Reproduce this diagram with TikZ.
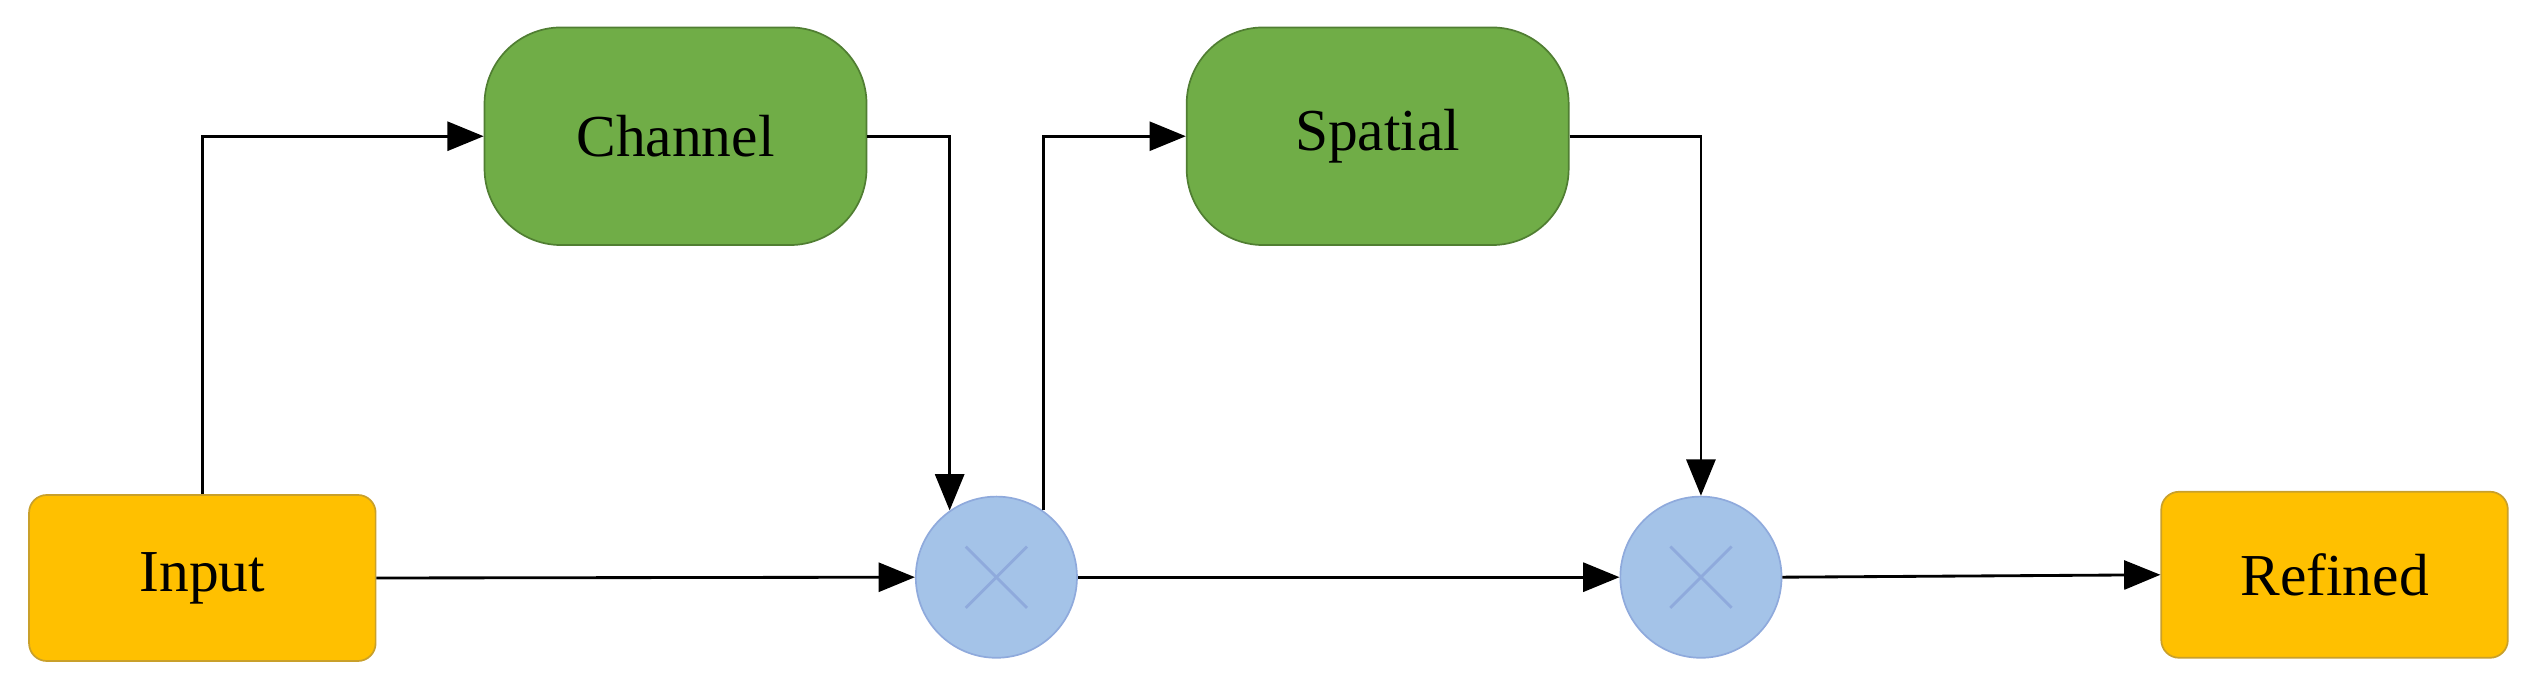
\documentclass[tikz,border=0pt]{standalone}
\usepackage{fontspec}
\setmainfont{Liberation Serif}
\usetikzlibrary{arrows.meta}
\definecolor{orangef}{HTML}{FFC000}
\definecolor{oranged}{HTML}{C9A02A}
\definecolor{greenf}{HTML}{70AD47}
\definecolor{greend}{HTML}{507E32}
\definecolor{bluef}{HTML}{A4C3E8}
\definecolor{blued}{HTML}{8FAADC}
\begin{document}
\begin{tikzpicture}[x=0.02cm,y=-0.02cm,
  font=\fontsize{21}{25}\selectfont,
  io/.style={draw=oranged,fill=orangef,rounded corners=0.22cm,minimum width=4.3cm,minimum height=2.06cm,line width=0.6pt},
  att/.style={draw=greend,fill=greenf,rounded corners=0.95cm,minimum width=4.74cm,minimum height=2.7cm,line width=0.6pt},
  mul/.style={circle,draw=blued,fill=bluef,minimum size=2.0cm,line width=0.6pt,
    path picture={\draw[line width=1pt] (path picture bounding box.south west)++(0.62cm,0.62cm) -- ++(0.76cm,0.76cm);
                  \draw[line width=1pt] (path picture bounding box.north west)++(0.62cm,-0.62cm) -- ++(0.76cm,-0.76cm);}},
  arr/.style={-{Triangle[length=0.45cm,width=0.36cm]},line width=1pt}]
\useasboundingbox (0,0) rectangle (1568,429);
\node[io] (in) at (125.5,358.5) {Input};
\node[io] (ref) at (1448,356.5) {Refined};
\node[att] (ch) at (419,84.5) {Channel};
\node[att] (sp) at (854.5,84.5) {Spatial};
\node[mul] (m1) at (618,358) {};
\node[mul] (m2) at (1055,358) {};
\draw[arr] (in.north) |- (ch.west);
\draw[arr] (ch.east) -| (m1.125);
\draw[arr] (m1.55) |- (sp.west);
\draw[arr] (sp.east) -| (m2.north);
\draw[arr] (in.east) -- (m1.west);
\draw[arr] (m1.east) -- (m2.west);
\draw[arr] (m2.east) -- (ref.west);
\end{tikzpicture}
\end{document}
